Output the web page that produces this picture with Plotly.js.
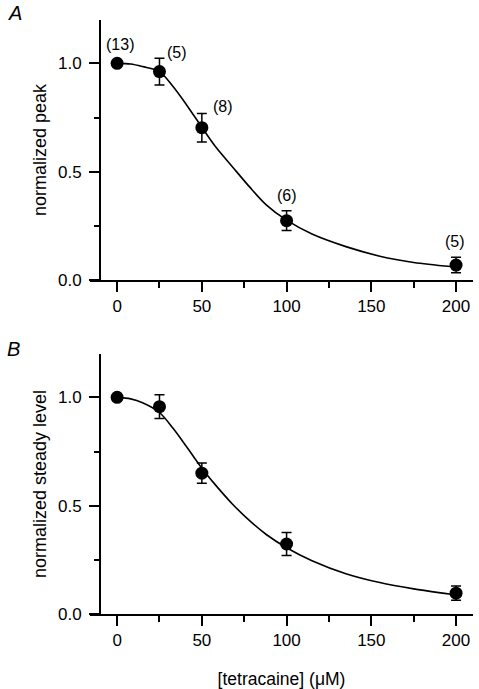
<!DOCTYPE html>
<html>
<head>
<meta charset="utf-8">
<script src="https://cdn.plot.ly/plotly-3.0.1.min.js"></script>
<style>
  html, body { margin: 0; padding: 0; background: #ffffff; }
  #chart { width: 479px; height: 689px; }
</style>
</head>
<body>
<div id="chart"></div>
<script>
// ---- data ----
const conc = [0, 25, 50, 100, 200];                 // [tetracaine] (µM)
const peakMean = [1.0, 0.962, 0.703, 0.274, 0.069];  // panel A
const peakErr = [0, 0.062, 0.066, 0.046, 0.036];
const steadyMean = [1.0, 0.957, 0.650, 0.323, 0.096]; // panel B
const steadyErr = [0, 0.055, 0.047, 0.053, 0.033];
const nLabels = ['(13)', '(5)', '(8)', '(6)', '(5)'];

// fitted curves
const fitPeakX = [0, 8, 15, 25, 33, 41, 50, 58, 68, 78, 88, 100, 115, 135, 155, 175, 197];
const fitPeakY = [1.0, 0.997, 0.985, 0.962, 0.893, 0.808, 0.705, 0.616, 0.523, 0.431, 0.347, 0.276, 0.212, 0.154, 0.110, 0.081, 0.062];
const fitSteadyX = [0, 8, 15, 25, 33, 41, 50, 58, 68, 78, 88, 100, 115, 135, 155, 175, 197];
const fitSteadyY = [1.0, 0.993, 0.975, 0.930, 0.857, 0.772, 0.673, 0.596, 0.508, 0.432, 0.367, 0.306, 0.246, 0.186, 0.145, 0.116, 0.091];

const xTickVals = [0, 50, 100, 150, 200];
const yTickVals = [0.0, 0.5, 1.0];

// ---- styling ----
const FONT = 'Liberation Sans, Arial, Helvetica, sans-serif';
const labelShift = [[3, 19], [18, 19], [21, 21], [0, 25], [-1, 24]]; // pixel offsets for n labels

function fitTrace(x, y, xa, ya) {
  return { x: x, y: y, xaxis: xa, yaxis: ya, type: 'scatter', mode: 'lines',
    line: { color: '#000', width: 1.6, shape: 'spline', smoothing: 0.9 }, hoverinfo: 'skip', showlegend: false };
}
function pointTrace(y, err, xa, ya) {
  return { x: conc, y: y, xaxis: xa, yaxis: ya, type: 'scatter', mode: 'markers',
    marker: { color: '#000', size: 13 },
    error_y: { type: 'data', array: err, visible: true, color: '#000', thickness: 1.5, width: 5 },
    showlegend: false };
}

const data = [
  fitTrace(fitPeakX, fitPeakY, 'x', 'y'),
  pointTrace(peakMean, peakErr, 'x', 'y'),
  fitTrace(fitSteadyX, fitSteadyY, 'x2', 'y2'),
  pointTrace(steadyMean, steadyErr, 'x2', 'y2')
];

function xAxis(anchor, withTitle) {
  const ax = {
    anchor: anchor, range: [-16, 210], tickvals: xTickVals, ticktext: xTickVals.map(String),
    ticks: 'outside', ticklen: 10, tickwidth: 2, tickcolor: '#000',
    minor: { dtick: 25, tick0: 0, ticks: 'outside', ticklen: 6, tickwidth: 2, tickcolor: '#000', showgrid: false },
    showline: true, linewidth: 2, linecolor: '#000', showgrid: false, zeroline: false,
    tickfont: { family: FONT, size: 17, color: '#000' }, fixedrange: true
  };
  if (withTitle) {
    ax.title = { text: '[tetracaine] (μM)', font: { family: FONT, size: 17.5, color: '#000' }, standoff: 26 };
  }
  return ax;
}
function yAxis(domain, title) {
  return {
    domain: domain, anchor: 'free', position: 10 / 383, range: [0, 1.2],
    tickvals: yTickVals, tickformat: '.1f',
    ticks: 'outside', ticklen: 10, tickwidth: 2, tickcolor: '#000',
    minor: { dtick: 0.25, tick0: 0, ticks: 'outside', ticklen: 5, tickwidth: 2, tickcolor: '#000', showgrid: false },
    showline: true, linewidth: 2, linecolor: '#000', showgrid: false, zeroline: false,
    tickfont: { family: FONT, size: 17, color: '#000' }, ticklabelstandoff: 4,
    title: { text: title, font: { family: FONT, size: 18, color: '#000' }, standoff: 6 },
    fixedrange: true
  };
}

const annotations = [];
nLabels.forEach(function (t, i) {
  annotations.push({ x: conc[i], y: peakMean[i], xref: 'x', yref: 'y', text: t, showarrow: false,
    xshift: labelShift[i][0], yshift: labelShift[i][1],
    font: { family: FONT, size: 16, color: '#000' } });
});
annotations.push({ xref: 'paper', yref: 'paper', x: -0.196, y: 1.012, text: '<i>A</i>', showarrow: false,
  xanchor: 'center', yanchor: 'middle', font: { family: FONT, size: 20, color: '#000' } });
annotations.push({ xref: 'paper', yref: 'paper', x: -0.2, y: 0.446, text: '<i>B</i>', showarrow: false,
  xanchor: 'center', yanchor: 'middle', font: { family: FONT, size: 20, color: '#000' } });

const layout = {
  width: 479, height: 689,
  margin: { l: 90, r: 6, t: 20, b: 75 },
  paper_bgcolor: '#fff', plot_bgcolor: '#fff',
  showlegend: false,
  xaxis: xAxis('y', false),
  xaxis2: xAxis('y2', true),
  yaxis: yAxis([0.5623, 1], 'normalized peak'),
  yaxis2: yAxis([0, 0.4377], 'normalized steady level'),
  annotations: annotations,
  font: { family: FONT, color: '#000' }
};

Plotly.newPlot('chart', data, layout, { displayModeBar: false, staticPlot: true });
</script>
</body>
</html>
